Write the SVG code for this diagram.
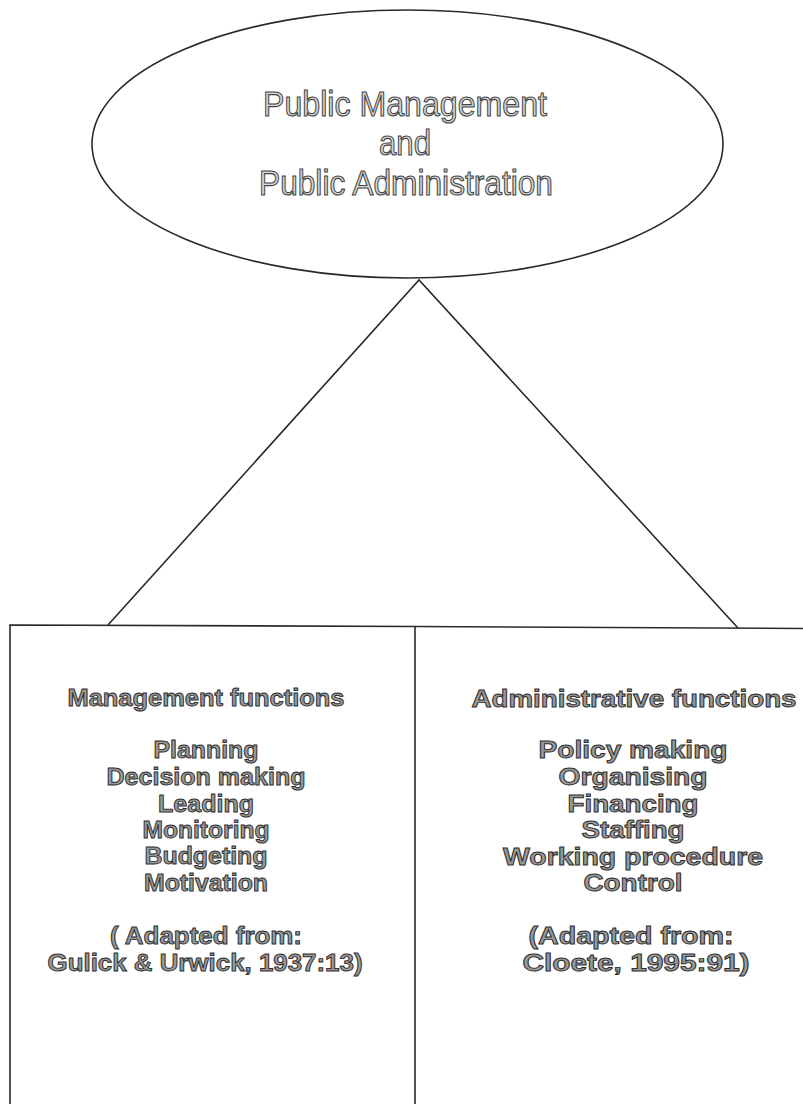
<svg xmlns="http://www.w3.org/2000/svg" width="803" height="1104" viewBox="0 0 803 1104">
  <style>
    .line { fill: none; stroke: #2a2a2a; stroke-width: 1.6; }
    .title { font-family: "Liberation Sans", Arial, sans-serif; font-size: 35px; fill: #d6d6d6; stroke: #444; stroke-width: 1.1; text-anchor: middle; }
    .item { font-family: "Liberation Sans", Arial, sans-serif; font-weight: bold; font-size: 23px; fill: #999; stroke: #2e2e2e; stroke-width: 0.9; text-anchor: middle; }
  </style>
  <rect width="803" height="1104" fill="#ffffff"/>

  <!-- branch lines from the ellipse down to the two boxes -->
  <g id="connectors">
    <path class="line" d="M108 625 L419 280 L738 628"/>
  </g>

  <g id="node-public">
    <ellipse class="line" cx="407.5" cy="144" rx="315.5" ry="134"/>
    <text class="title" x="405" y="116" textLength="284" lengthAdjust="spacingAndGlyphs">Public Management</text>
    <text class="title" x="405" y="155" textLength="52" lengthAdjust="spacingAndGlyphs">and</text>
    <text class="title" x="406" y="195" textLength="294" lengthAdjust="spacingAndGlyphs">Public Administration</text>
  </g>

  <g id="node-management">
    <path class="line" d="M10 1110 L10 625 L415 626.5 L415 1110"/>
    <text class="item" x="206" y="706" textLength="277" lengthAdjust="spacingAndGlyphs">Management functions</text>
    <text class="item" x="206" y="758" textLength="105" lengthAdjust="spacingAndGlyphs">Planning</text>
    <text class="item" x="206" y="785" textLength="199" lengthAdjust="spacingAndGlyphs">Decision making</text>
    <text class="item" x="206" y="812" textLength="96" lengthAdjust="spacingAndGlyphs">Leading</text>
    <text class="item" x="206" y="838" textLength="127" lengthAdjust="spacingAndGlyphs">Monitoring</text>
    <text class="item" x="206" y="864" textLength="123" lengthAdjust="spacingAndGlyphs">Budgeting</text>
    <text class="item" x="206" y="891" textLength="124" lengthAdjust="spacingAndGlyphs">Motivation</text>
    <text class="item" x="206" y="944" textLength="192" lengthAdjust="spacingAndGlyphs">( Adapted from:</text>
    <text class="item" x="205" y="971" textLength="315" lengthAdjust="spacingAndGlyphs">Gulick &amp; Urwick, 1937:13)</text>
  </g>

  <g id="node-administrative">
    <path class="line" d="M415 626.5 L810 628.5"/>
    <text class="item" x="634" y="707" textLength="325" lengthAdjust="spacingAndGlyphs">Administrative functions</text>
    <text class="item" x="633" y="758" textLength="189" lengthAdjust="spacingAndGlyphs">Policy making</text>
    <text class="item" x="633" y="785" textLength="149" lengthAdjust="spacingAndGlyphs">Organising</text>
    <text class="item" x="633" y="812" textLength="131" lengthAdjust="spacingAndGlyphs">Financing</text>
    <text class="item" x="633" y="838" textLength="103" lengthAdjust="spacingAndGlyphs">Staffing</text>
    <text class="item" x="633" y="865" textLength="260" lengthAdjust="spacingAndGlyphs">Working procedure</text>
    <text class="item" x="633" y="891" textLength="99" lengthAdjust="spacingAndGlyphs">Control</text>
    <text class="item" x="631" y="944" textLength="205" lengthAdjust="spacingAndGlyphs">(Adapted from:</text>
    <text class="item" x="636" y="971" textLength="227" lengthAdjust="spacingAndGlyphs">Cloete, 1995:91)</text>
  </g>
</svg>
